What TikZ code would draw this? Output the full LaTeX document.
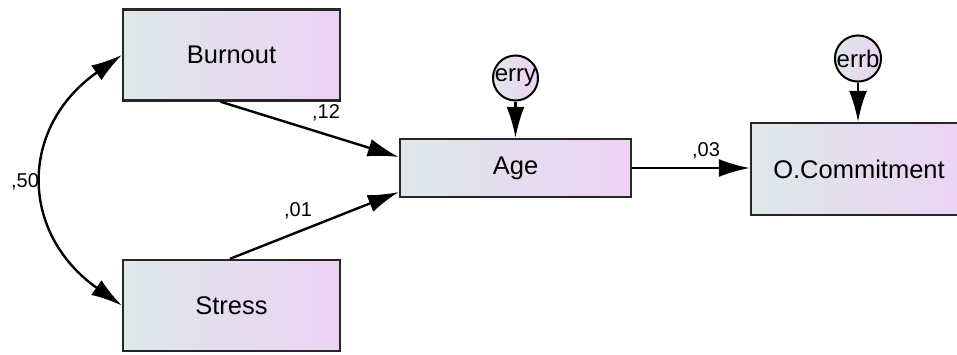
\documentclass[tikz,border=0pt]{standalone}
\usepackage{fontspec}
\setmainfont{Liberation Sans}
\usetikzlibrary{arrows.meta}
\definecolor{gl}{RGB}{222,232,234}
\definecolor{gr}{RGB}{236,210,243}
\tikzset{
  box/.style={draw=black!85, line width=2.4pt, left color=gl, right color=gr,
    minimum width=217pt, minimum height=91pt, inner sep=0pt,
    font=\fontsize{25.5}{30}\selectfont},
  errc/.style={circle, draw=black, line width=2pt, minimum size=43pt, inner sep=0pt,
    left color=gl, right color=gr, font=\fontsize{24}{28}\selectfont},
  arr/.style={line width=2.4pt, -{Latex[length=31pt,width=18pt]}},
  darr/.style={line width=2.4pt, {Latex[length=31pt,width=18pt]}-{Latex[length=31pt,width=18pt]}},
  lab/.style={font=\fontsize{20}{24}\selectfont, inner sep=0pt}
}
\begin{document}
\begin{tikzpicture}[x=1pt,y=-1pt]
\useasboundingbox (0,0) rectangle (957,354);
\node[box] (b) at (231.5,55) {Burnout};
\node[box] (s) at (231.5,305.5) {Stress};
\node[box, minimum width=231pt, minimum height=58pt] (a) at (515.5,168) {Age};
\node[box, minimum width=216pt, minimum height=92pt] (oc) at (859,169) {O.Commitment};
\node[errc] (ey) at (515.5,78) {erry};
\node[errc] (eb) at (858,58.5) {errb};
\draw[arr] ([xshift=-11pt]b.south) -- ([yshift=11pt]a.west);
\draw[arr] ([xshift=-1.5pt]s.north) -- ([yshift=-24pt]a.west);
\draw[arr] (a.east) -- (a.east -| oc.west);
\draw[arr] (ey) -- (a.north);
\draw[arr] (eb) -- (eb |- oc.north);
\draw[darr] (b.west) .. controls (19,127) and (19,233) .. (s.west);
\node[lab] (l12) at (326,113) {,12};
\node[lab] (l01) at (298,211) {,01};
\node[lab] (l50) at (25,182) {,50};
\node[lab] (l03) at (706,151) {,03};
\end{tikzpicture}
\end{document}
